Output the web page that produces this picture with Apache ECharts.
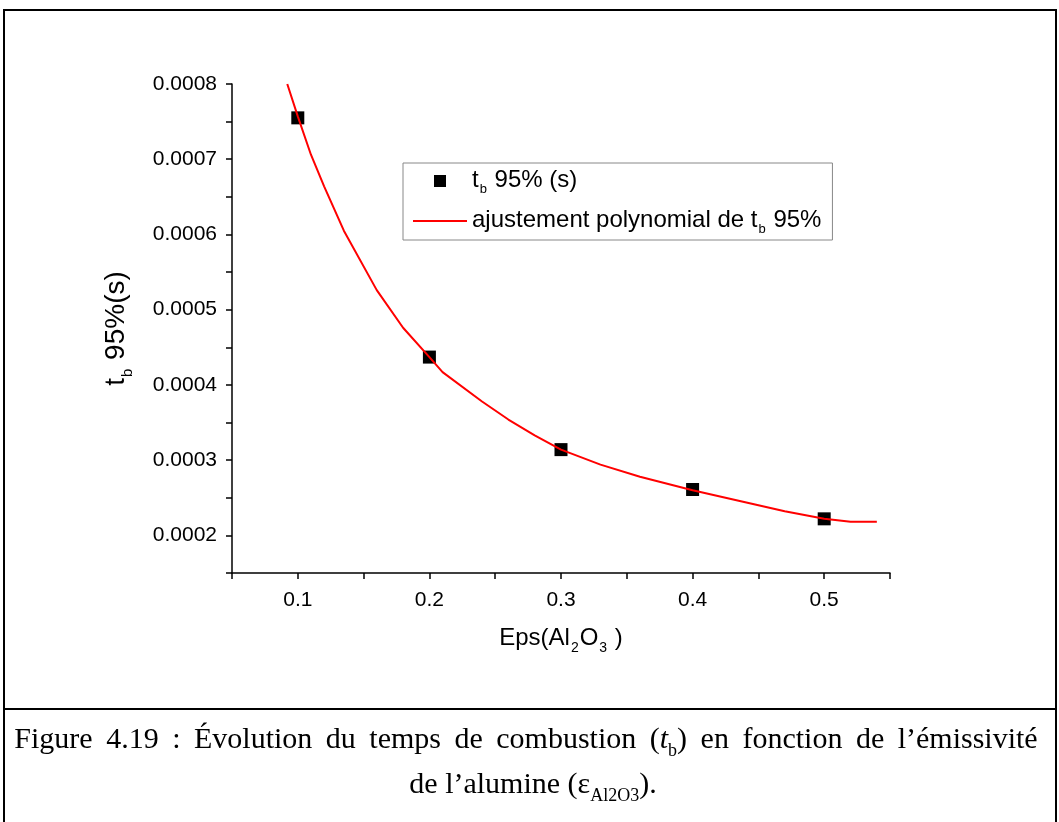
<!DOCTYPE html>
<html>
<head>
<meta charset="utf-8">
<script src="https://cdn.jsdelivr.net/npm/echarts@6/dist/echarts.min.js"></script>
<style>
html,body{margin:0;padding:0;background:#fff;}
#chart{width:1059px;height:822px;}
</style>
</head>
<body>
<div id="chart"></div>
<script>
// Measured data points (t_b 95% vs Eps(Al2O3))
const epsPoints = [0.1, 0.2, 0.3, 0.4, 0.5];
const tbPoints = [0.000755, 0.000437, 0.000314, 0.000261, 0.000222];

// Polynomial fit curve
const fitX = [0.092, 0.1, 0.11, 0.12, 0.135, 0.16, 0.18, 0.2, 0.21, 0.24, 0.26, 0.28, 0.3, 0.33, 0.36, 0.4, 0.44, 0.47, 0.5, 0.52, 0.54];
const fitY = [0.0008, 0.000757, 0.000706, 0.000664, 0.000605, 0.000526, 0.000476, 0.000437, 0.000417, 0.000378, 0.000354, 0.000333, 0.000314, 0.000294, 0.000278, 0.00026, 0.000244, 0.000232, 0.000222, 0.000218, 0.000218];

const seriesNames = ['tb95', 'fit'];
const legendTexts = ['{m|t}{s|b}{m| 95% (s)}', '{m|ajustement polynomial de t}{s|b}{m| 95%}'];
const xAxisName = '{m|Eps(Al}{s|2}{m|O}{s|3}{m| )}';
const yAxisName = '{m|t}{s|b}{m| 95%(s)}';
// Caption line 1 is justified in the source: words joined by widened spaces
const captionWords1 = ['{n|Figure}', '{n|4.19}', '{n|:}', '{n|Évolution}', '{n|du}', '{n|temps}', '{n|de}', '{n|combustion}', '{n|(}{i|t}{s|b}{n|)}', '{n|en}', '{n|fonction}', '{n|de}', '{n|l’émissivité}'];
const captionLine2 = '{n|de l’alumine (ε}{s|Al2O3}{n|).}';

const sansFont = 'Liberation Sans, Arial, sans-serif';
const serifFont = 'Liberation Serif, Times New Roman, serif';

function subRich(size, sub, drop) {
  return {
    m: {fontFamily: sansFont, fontSize: size, color: '#000', lineHeight: size + 2, verticalAlign: 'top'},
    s: {fontFamily: sansFont, fontSize: sub, color: '#000', lineHeight: sub, padding: [drop, 1, 0, 1], verticalAlign: 'top'}
  };
}
const capSize = 30;
const captionRich = {
  n: {fontFamily: serifFont, fontSize: capSize, fill: '#000', lineHeight: 34, verticalAlign: 'top'},
  i: {fontFamily: serifFont, fontSize: capSize, fontStyle: 'italic', fill: '#000', lineHeight: 34, verticalAlign: 'top'},
  s: {fontFamily: serifFont, fontSize: 18, fill: '#000', lineHeight: 18, padding: [17, 0, 0, 0], verticalAlign: 'top'},
  sp: {fontFamily: serifFont, fontSize: capSize, fill: '#000', lineHeight: 34, verticalAlign: 'top', padding: [0, 6, 0, 0]}
};

const chart = echarts.init(document.getElementById('chart'), null, {renderer: 'canvas'});

const option = {
  backgroundColor: '#fff',
  animation: false,
  grid: {left: 232, top: 84, width: 658, height: 489, containLabel: false},
  legend: {
    orient: 'vertical',
    left: 403,
    top: 163,
    data: [
      {name: 'tb95', icon: 'path://M0,0L10,0L10,10L0,10Z'},
      {name: 'fit', icon: 'path://M0,0L54,0L54,2.2L0,2.2Z'}
    ],
    itemWidth: 54,
    itemHeight: 12,
    itemGap: 12,
    symbolKeepAspect: true,
    padding: [5, 11, 4, 10],
    borderColor: '#888',
    borderWidth: 1,
    backgroundColor: '#fff',
    formatter: function (name) { return legendTexts[seriesNames.indexOf(name)]; },
    textStyle: {rich: subRich(24, 13, 15)}
  },
  xAxis: {
    type: 'value',
    min: 0.05, max: 0.55, interval: 0.05,
    name: xAxisName,
    nameLocation: 'middle',
    nameGap: 53,
    nameTextStyle: {rich: subRich(24, 14, 15)},
    axisLine: {show: true, onZero: false, lineStyle: {color: '#000', width: 1.5}},
    axisTick: {show: true, inside: false, length: 6, lineStyle: {color: '#000', width: 1.5}},
    axisLabel: {
      margin: 17, fontFamily: sansFont, fontSize: 21, color: '#000',
      formatter: function (v) {
        const k = v * 10;
        return Math.abs(k - Math.round(k)) < 1e-6 ? v.toFixed(1) : '';
      }
    },
    splitLine: {show: false}
  },
  yAxis: {
    type: 'value',
    min: 0.00015, max: 0.0008, interval: 0.00005,
    name: yAxisName,
    nameLocation: 'middle',
    nameGap: 100,
    nameRotate: 90,
    nameTextStyle: {rich: subRich(28, 15, 18)},
    axisLine: {show: true, onZero: false, lineStyle: {color: '#000', width: 1.5}},
    axisTick: {show: true, inside: false, length: 6, lineStyle: {color: '#000', width: 1.5}},
    axisLabel: {
      margin: 15, fontFamily: sansFont, fontSize: 21, color: '#000',
      formatter: function (v) {
        const k = v * 10000;
        return Math.abs(k - Math.round(k)) < 1e-6 ? v.toFixed(4) : '';
      }
    },
    splitLine: {show: false}
  },
  series: [
    {
      name: 'fit',
      type: 'line',
      data: fitX.map(function (x, i) { return [x, fitY[i]]; }),
      showSymbol: false,
      symbol: 'none',
      smooth: false,
      lineStyle: {color: '#ff0000', width: 2},
      itemStyle: {color: '#ff0000'},
      z: 3
    },
    {
      name: 'tb95',
      type: 'scatter',
      data: epsPoints.map(function (x, i) { return [x, tbPoints[i]]; }),
      symbol: 'rect',
      symbolSize: 13,
      itemStyle: {color: '#000', opacity: 1, borderColor: '#000', borderWidth: 0},
      z: 2
    }
  ],
  graphic: [
    {type: 'line', shape: {x1: 3, y1: 10, x2: 1057, y2: 10}, style: {stroke: '#000', lineWidth: 2}},
    {type: 'line', shape: {x1: 4, y1: 10, x2: 4, y2: 822}, style: {stroke: '#000', lineWidth: 2}},
    {type: 'line', shape: {x1: 1056, y1: 10, x2: 1056, y2: 822}, style: {stroke: '#000', lineWidth: 2}},
    {type: 'line', shape: {x1: 4, y1: 709, x2: 1056, y2: 709}, style: {stroke: '#000', lineWidth: 2}},
    {
      type: 'text', x: 526, y: 742,
      style: {
        text: captionWords1.join('{sp| }'), textAlign: 'center', textVerticalAlign: 'middle',
        rich: captionRich
      }
    },
    {
      type: 'text', x: 533, y: 787,
      style: {
        text: captionLine2, textAlign: 'center', textVerticalAlign: 'middle',
        rich: captionRich
      }
    }
  ]
};
chart.setOption(option);
</script>
</body>
</html>
